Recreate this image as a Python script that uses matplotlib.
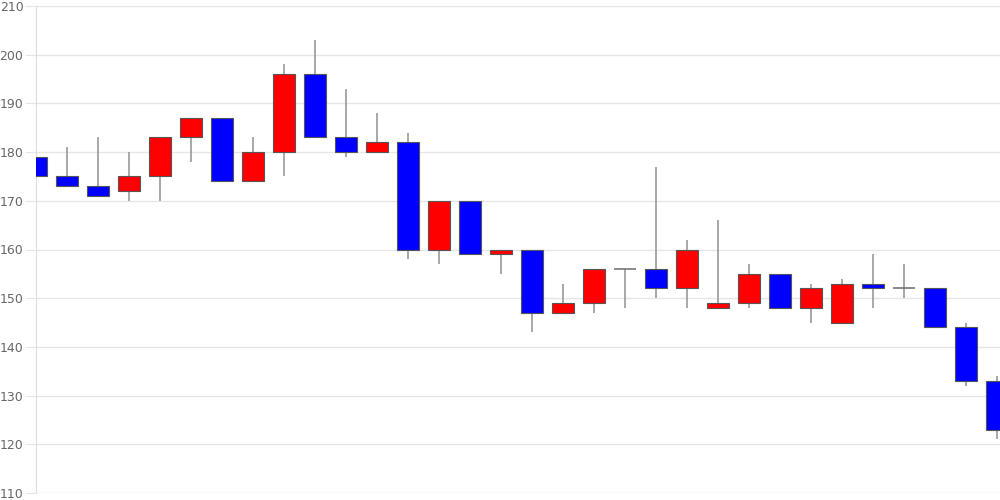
import matplotlib
matplotlib.use("Agg")
import matplotlib.pyplot as plt

# daily candles: open, close, high, low
opens = [179, 175, 173, 172, 175, 183, 187, 174, 180, 196, 183, 180, 182, 160, 170, 159,
         160, 147, 149, 156, 156, 152, 148, 149, 155, 148, 145, 153, 152, 152, 144, 133]
closes = [175, 173, 171, 175, 183, 187, 174, 180, 196, 183, 180, 182, 160, 170, 159, 160,
          147, 149, 156, 156, 152, 160, 149, 155, 148, 152, 153, 152, 152, 144, 133, 123]
highs = [184, 181, 183, 180, 183, 187, 187, 183, 198, 203, 193, 188, 184, 170, 170, 160,
         160, 153, 156, 156, 177, 162, 166, 157, 155, 153, 154, 159, 157, 152, 145, 134]
lows = [167, 173, 171, 170, 170, 178, 174, 174, 175, 183, 179, 180, 158, 157, 159, 155,
        143, 147, 147, 148, 150, 148, 148, 148, 148, 145, 145, 148, 150, 144, 132, 121]
y_ticks = [110, 120, 130, 140, 150, 160, 170, 180, 190, 200, 210]

fig = plt.figure(figsize=(10, 5), dpi=100)
ax = fig.add_axes([0.036, 0.014, 0.964, 0.974])

width = 0.71
for i in range(len(opens)):
    o, c, h, l = opens[i], closes[i], highs[i], lows[i]
    color = "#ff0000" if c > o else "#0000ff"
    ax.vlines(i, l, h, color="#999999", linewidth=1.2, zorder=2)
    if o == c:
        ax.hlines(o, i - width / 2, i + width / 2, color="#777777", linewidth=1.2, zorder=3)
    else:
        ax.bar(i, abs(c - o), bottom=min(o, c), width=width, color=color,
               edgecolor="#555555", linewidth=0.8, zorder=3)

ax.set_xlim(0, 31.1)
ax.set_ylim(110, 210)
ax.set_yticks(y_ticks)
ax.set_xticks([])
ax.grid(axis="y", color="#e6e6e6", linewidth=1, zorder=0)
for side in ["top", "right", "bottom"]:
    ax.spines[side].set_visible(False)
ax.spines["left"].set_color("#dddddd")
ax.tick_params(axis="y", length=8, color="#e6e6e6", labelcolor="#666666",
               labelsize=9, pad=1)

plt.savefig("out.png", dpi=100)
plt.close()
